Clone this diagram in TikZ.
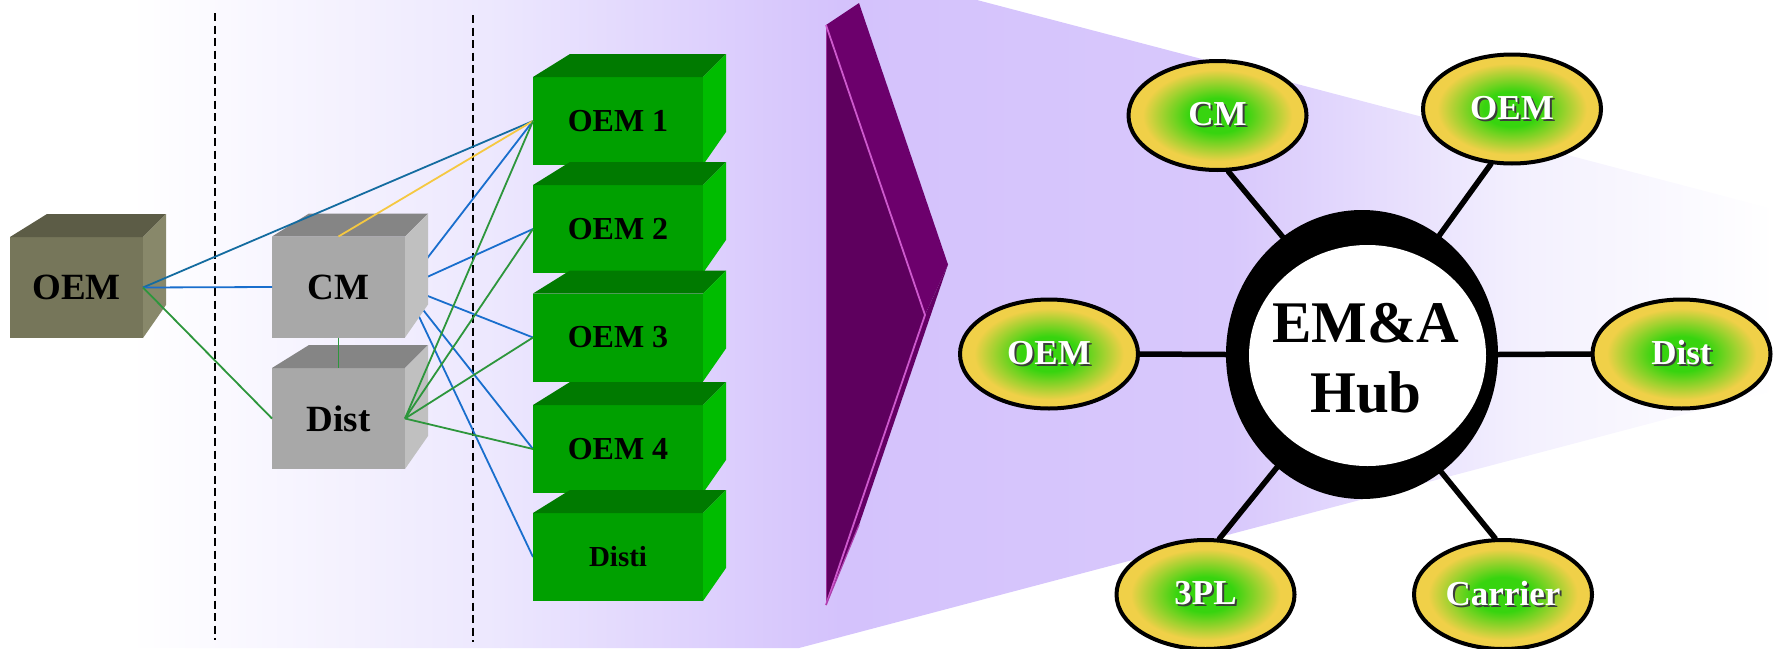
\documentclass[tikz,border=0pt]{standalone}
\usepackage{fontspec}
\setmainfont{Liberation Serif}
\usetikzlibrary{shapes.geometric}

\definecolor{bgA}{RGB}{236,231,254}
\definecolor{bgB}{RGB}{212,194,252}
\definecolor{bgC}{RGB}{216,200,252}
\definecolor{bgD}{RGB}{243,240,254}
\definecolor{oliveF}{RGB}{118,118,90}
\definecolor{oliveT}{RGB}{92,92,70}
\definecolor{oliveS}{RGB}{136,136,106}
\definecolor{grayF}{RGB}{168,168,168}
\definecolor{grayT}{RGB}{133,133,133}
\definecolor{grayS}{RGB}{192,192,192}
\definecolor{grnF}{RGB}{0,160,0}
\definecolor{grnT}{RGB}{0,122,0}
\definecolor{grnS}{RGB}{0,188,0}
\definecolor{linkTeal}{RGB}{20,108,160}
\definecolor{linkBlue}{RGB}{25,110,205}
\definecolor{linkGreen}{RGB}{45,150,60}
\definecolor{linkYellow}{RGB}{245,200,65}
\definecolor{plumFront}{RGB}{94,0,94}
\definecolor{plumTop}{RGB}{108,0,108}
\definecolor{plumLow}{RGB}{100,0,100}
\definecolor{plumEdge}{RGB}{205,90,205}
\definecolor{satGreen}{RGB}{55,212,15}
\definecolor{satYellow}{RGB}{240,208,72}
\definecolor{labelShadow}{RGB}{60,60,60}

\pgfdeclareradialshading{satshade}{\pgfpoint{0bp}{0bp}}{color(0bp)=(satGreen); color(8bp)=(satGreen); color(21bp)=(satYellow); color(25bp)=(satYellow); color(50bp)=(satYellow)}

\pgfdeclarelayer{backdrop}
\pgfdeclarelayer{under}
\pgfsetlayers{backdrop,under,main}

% white label with a dark drop shadow
\newcommand{\shadowlabel}[1]{\makebox[0pt][l]{\hspace{2pt}\raisebox{-2pt}{\color{labelShadow}#1}}\textcolor{white}{#1}}

% top and side faces of a block, built on its front face node
\newcommand{\boxfaces}[3]{%
  \fill[#2] (#1.north west) -- ([shift={(37,-23)}]#1.north west) -- ([shift={(23,-23)}]#1.north east) -- (#1.north east) -- cycle;
  \fill[#3] (#1.north east) -- ([shift={(23,-23)}]#1.north east) -- ([shift={(23,-33)}]#1.south east) -- (#1.south east) -- cycle;
}

\begin{document}
\begin{tikzpicture}[x=1pt,y=-1pt,
  front/.style={rectangle, inner sep=0pt, outer sep=0pt, font=\bfseries\fontsize{37}{40}\selectfont},
  oliveface/.style={front, fill=oliveF, minimum width=133pt, minimum height=101pt},
  grayface/.style={front, fill=grayF, minimum width=133pt, minimum height=101pt},
  greenface/.style={front, fill=grnF, minimum width=170pt, minimum height=88pt, font=\bfseries\fontsize{32}{36}\selectfont},
  link/.style={line width=1.8pt},
  divider/.style={line width=2pt, dash pattern=on 8pt off 4.5pt},
  sat/.style={ellipse, draw=black, line width=4pt, minimum width=178pt, minimum height=109pt, inner sep=0pt, shading=satshade, font=\bfseries\fontsize{35}{40}\selectfont},
  spoke/.style={line width=5.5pt, line cap=round},
  hubring/.style={ellipse, fill=black, minimum width=272pt, minimum height=289pt, inner sep=0pt},
  hubtext/.style={align=center, inner sep=0pt, font=\bfseries\fontsize{59}{70}\selectfont}]

\useasboundingbox (0,0) rectangle (1777,648);

% backdrop band with its horizontal colour ramp
\begin{pgfonlayer}{backdrop}
  \begin{scope}
    \clip (0,0) -- (977,0) -- (1777,210) -- (1777,390) -- (799,648) -- (0,648) -- cycle;
    \fill[white] (0,0) rectangle (131,648);
    \shade[left color=white, right color=bgA] (130,0) rectangle (501,648);
    \shade[left color=bgA, right color=bgB] (500,0) rectangle (841,648);
    \shade[left color=bgB, right color=bgC] (840,0) rectangle (1231,648);
    \shade[left color=bgC, right color=bgD] (1230,0) rectangle (1521,648);
    \shade[left color=bgD, right color=white] (1520,0) rectangle (1777,648);
  \end{scope}
  \draw[divider] (215,13) -- (215,640);
  \draw[divider] (473,15) -- (473,642);
\end{pgfonlayer}

% left-hand blocks
\node[oliveface] (oemL) at (76.5,287.5) {OEM};
\boxfaces{oemL}{oliveT}{oliveS}
\node[grayface] (cm) at (338.5,287) {CM};
\boxfaces{cm}{grayT}{grayS}
\node[grayface] (dist) at (338.5,418.5) {Dist};
\boxfaces{dist}{grayT}{grayS}

% stack of green blocks
\node[greenface] (g1) at (618,121) {OEM 1};
\boxfaces{g1}{grnT}{grnS}
\node[greenface] (g2) at (618,229) {OEM 2};
\boxfaces{g2}{grnT}{grnS}
\node[greenface] (g3) at (618,337.5) {OEM 3};
\boxfaces{g3}{grnT}{grnS}
\node[greenface] (g4) at (618,449) {OEM 4};
\boxfaces{g4}{grnT}{grnS}
\node[greenface, font=\bfseries\fontsize{29}{34}\selectfont] (gd) at (618,557) {Disti};
\boxfaces{gd}{grnT}{grnS}

% links leaving CM pass behind the block
\begin{pgfonlayer}{under}
  \draw[link, linkBlue] (cm.east) -- (g1.west);
  \draw[link, linkBlue] (cm.east) -- (g2.west);
  \draw[link, linkBlue] (cm.east) -- (g3.west);
  \draw[link, linkBlue] (cm.east) -- (g4.west);
  \draw[link, linkBlue] (cm.east) -- (gd.west);
\end{pgfonlayer}

\draw[link, linkTeal] (oemL.east) -- (g1.west);
\draw[link, linkBlue] (oemL.east) -- (cm.west);
\draw[link, linkGreen] (oemL.east) -- (dist.west);
\draw[link, linkYellow] (cm.north) -- (g1.west);
\draw[link, linkGreen] (cm.south) -- (dist.north);
\draw[link, linkGreen] (dist.east) -- (g1.west);
\draw[link, linkGreen] (dist.east) -- (g2.west);
\draw[link, linkGreen] (dist.east) -- (g3.west);
\draw[link, linkGreen] (dist.east) -- (g4.west);

% purple chevron
\fill[plumFront] (826,25) -- (925,315) -- (826,605) -- cycle;
\fill[plumTop] (826,25) -- (859,3) -- (948,264.5) -- (925,315) -- cycle;
\fill[plumLow] (925,315) -- (948,264.5) -- (859,525) -- (826,605) -- cycle;
\draw[plumEdge!55!plumFront, line width=1pt] (826,25) -- (826,605);
\draw[plumEdge, line width=1.8pt] (826,25) -- (925,315) -- (826,605);
\draw[plumEdge!70!plumLow, line width=1.2pt] (859,525) -- (826,605);

% hub and its partners
\node[hubring] (hub) at (1362,354.5) {};
\fill[white] (1367.5,355.5) ellipse [x radius=118.5pt, y radius=110.5pt];
\node[hubtext] (hubLabel) at (1366,358) {EM\&A\\Hub};

\node[sat] (sCM) at (1217.5,115.5) {\shadowlabel{CM}};
\node[sat] (sOEMa) at (1512,109) {\shadowlabel{OEM}};
\node[sat] (sOEMb) at (1049,354) {\shadowlabel{OEM}};
\node[sat] (sDist) at (1681.5,354) {\shadowlabel{Dist}};
\node[sat] (s3PL) at (1205.5,594.5) {\shadowlabel{3PL}};
\node[sat] (sCar) at (1503,594.5) {\shadowlabel{Carrier}};

\draw[spoke] (sCM.-79) -- (hub.124);
\draw[spoke] (sOEMa.-111) -- (hub.57.6);
\draw[spoke] (sOEMb.east) -- (hub.west);
\draw[spoke] (sDist.west) -- (hub.east);
\draw[spoke] (s3PL.76) -- (hub.-127);
\draw[spoke] (sCar.98) -- (hub.-56);

\end{tikzpicture}
\end{document}
